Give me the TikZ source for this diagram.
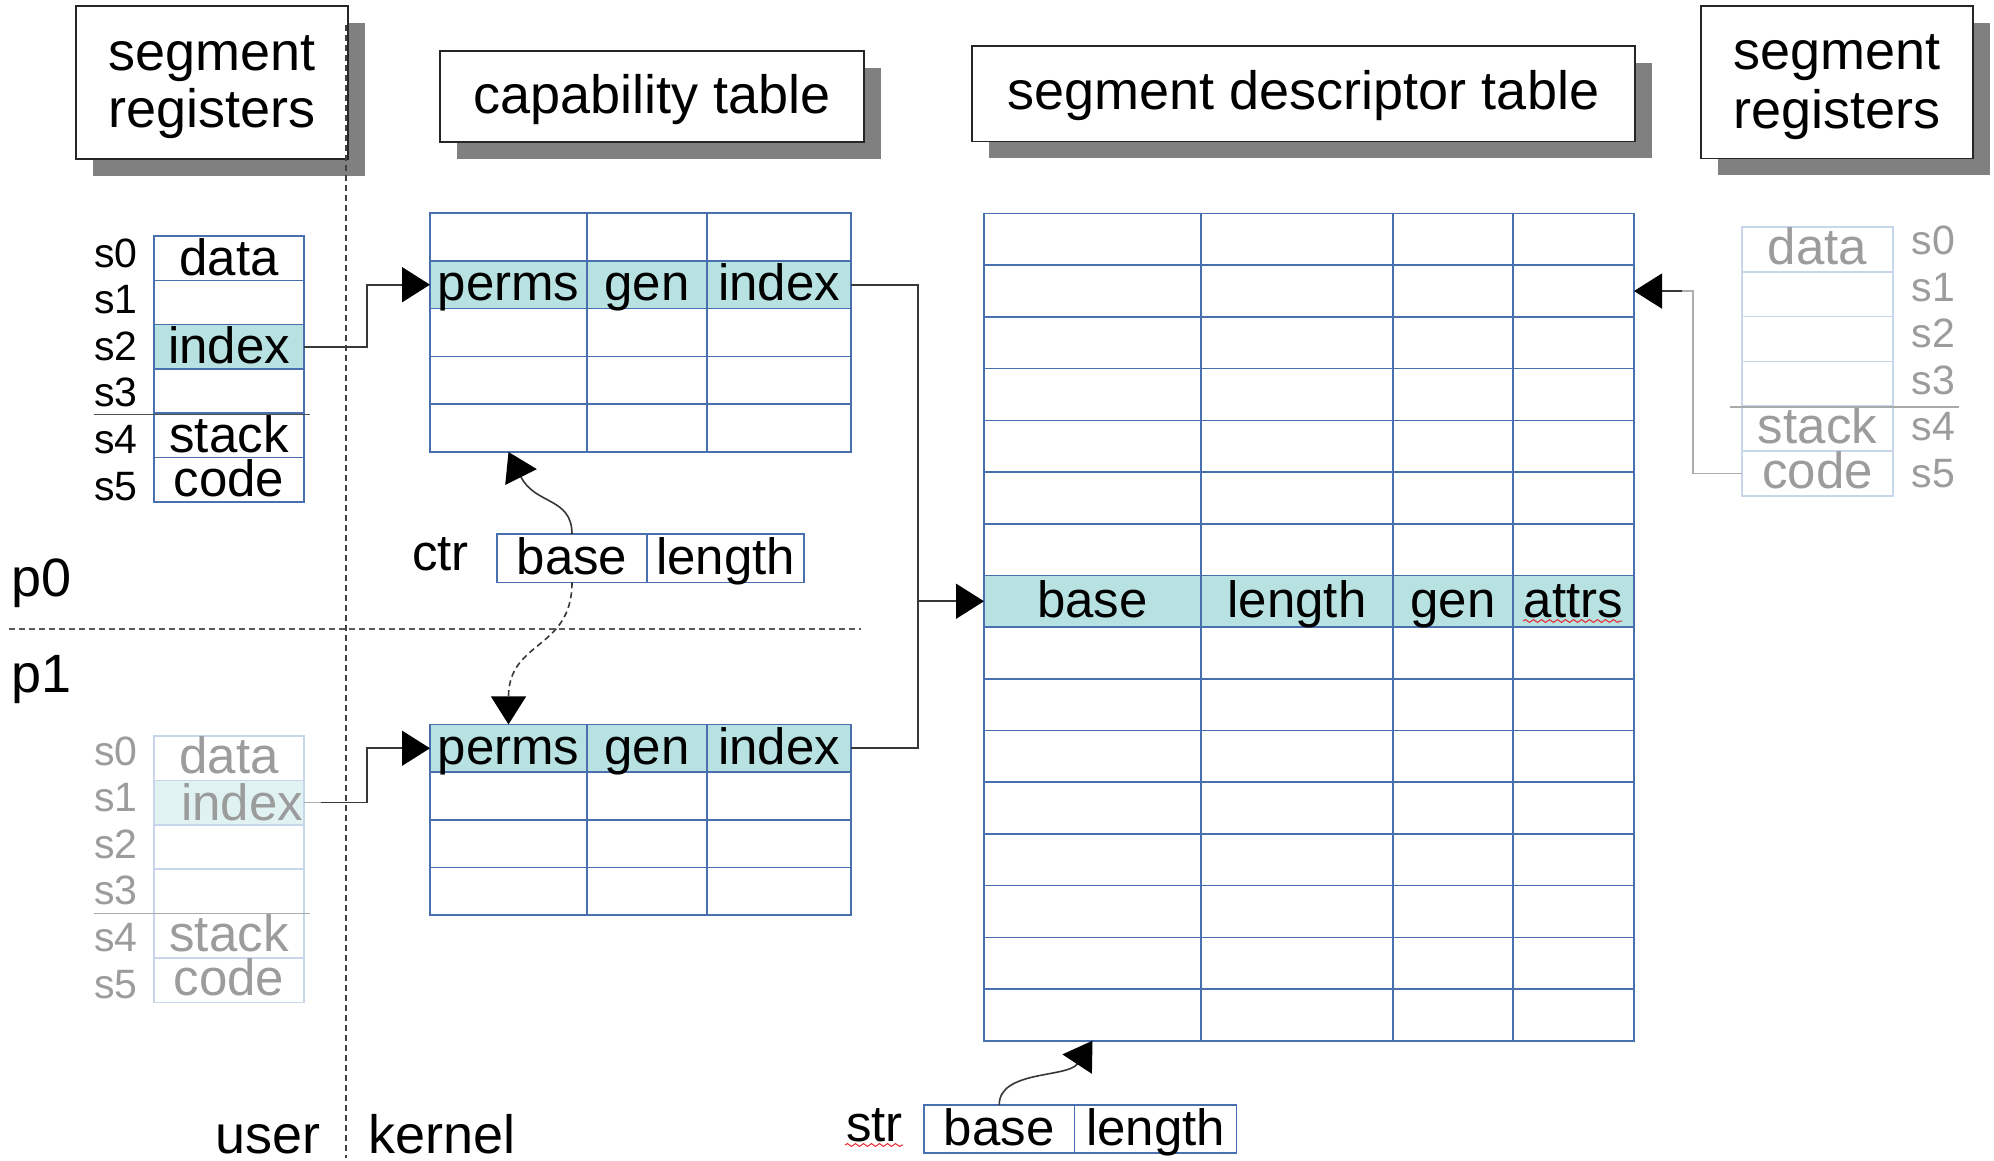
\documentclass[tikz,border=0pt]{standalone}
\usepackage{fontspec}
\setmainfont{Liberation Sans}
\usetikzlibrary{arrows.meta,shadows,decorations.pathmorphing}

\definecolor{gridblue}{HTML}{4A6FAE}
\definecolor{hilite}{HTML}{B8E1E1}
\definecolor{fadeblue}{HTML}{C8D6EB}
\definecolor{fadehilite}{HTML}{E1F2F2}
\definecolor{fadetext}{HTML}{9C9C9C}
\definecolor{shadowgray}{HTML}{808080}
\definecolor{linkgray}{HTML}{383838}
\definecolor{fadelink}{HTML}{ADADAD}
\definecolor{ruleline}{HTML}{505050}
\definecolor{fadeline}{HTML}{AAAAAA}
\definecolor{spellred}{HTML}{E8262A}

\tikzset{
  bigtext/.style={font=\fontsize{27}{29}\selectfont, inner sep=0pt, anchor=base},
  celltext/.style={font=\fontsize{25.5}{27}\selectfont},
  labeltext/.style={font=\fontsize{20.5}{22}\selectfont, inner sep=0pt, anchor=base},
  titlebox/.style={draw=black!85, line width=0.9pt, fill=white, inner sep=0pt, outer sep=0pt,
    drop shadow={shadow xshift=8.5pt, shadow yshift=-8.5pt, fill=shadowgray, opacity=1}},
  cell/.style={draw=gridblue, line width=0.8pt, fill=white, inner sep=0pt, outer sep=0pt,
    celltext, text depth=0pt, text height=15.9pt},
  hot/.style={fill=hilite},
  capcell/.style={cell, minimum height=23.9pt},
  capcellb/.style={cell, minimum height=23.85pt},
  sdtcell/.style={cell, minimum height=25.85pt},
  pairbox/.style={cell, minimum height=24.1pt, text height=16pt},
  regcell/.style={cell, minimum width=75pt, minimum height=22.15pt, text height=16.85pt},
  fadecell/.style={cell, draw=fadeblue, text=fadetext, minimum width=75pt,
    minimum height=22.2pt, text height=15.2pt},
  fadecellr/.style={fadecell, minimum width=75.5pt, minimum height=22.4pt, text height=14.9pt},
  link/.style={draw=linkgray, line width=0.8pt},
  conn/.style={link, -{Triangle[length=14pt,width=17.5pt,color=black]}},
  fadedlink/.style={draw=fadelink, line width=0.8pt},
  divider/.style={draw=black!75, line width=0.7pt, dash pattern=on 3pt off 2pt},
  spell/.style={draw=spellred, line width=0.5pt,
    decorate, decoration={snake, amplitude=0.7pt, segment length=4pt}}
}

\begin{document}
\begin{tikzpicture}[x=0.5pt, y=-0.5pt]
\fill[white] (0,0) rectangle (1994,1161);
\useasboundingbox (0,0) rectangle (1994,1161);

% ---- headings ----
\node[titlebox, minimum width=136pt, minimum height=76.5pt] (srl) at (212,82.5) {};
\node[bigtext] (srl-a) at (212,71) {segment};
\node[bigtext] (srl-b) at (212,128) {registers};

\node[titlebox, minimum width=212pt, minimum height=45.5pt] (capt) at (652,96.5) {};
\node[bigtext] (capt-a) at (652,114) {capability table};

\node[titlebox, minimum width=331.5pt, minimum height=47.75pt] (sdtt) at (1303.5,93.75) {};
\node[bigtext] (sdtt-a) at (1303.5,110) {segment descriptor table};

\node[titlebox, minimum width=136pt, minimum height=76.25pt] (srr) at (1837,82.25) {};
\node[bigtext] (srr-a) at (1837,70) {segment};
\node[bigtext] (srr-b) at (1837,129) {registers};

% ---- segment registers of p0 ----
\node[regcell] (r0-0) at (229,258.15) {data};
\node[regcell] (r0-1) at (229,302.45) {};
\node[regcell, hot] (r0-2) at (229,346.75) {index};
\node[regcell] (r0-3) at (229,391.05) {};
\node[regcell] (r0-4) at (229,435.35) {stack};
\node[regcell] (r0-5) at (229,479.65) {code};
\foreach \i in {0,...,5}
  \node[labeltext] (l0-\i) at (116,{267+\i*46.6}) {s\i};
\draw[draw=ruleline, line width=0.8pt] (94,414.5) -- (310,414.5);

% ---- segment registers of p1 ----
\node[fadecell] (r1-0) at (229,758.2) {data};
\node[fadecell, fill=fadehilite] (r1-1) at (229,802.6) {};
\node[fadecell] (r1-2) at (229,847) {};
\node[fadecell] (r1-3) at (229,891.4) {};
\node[fadecell] (r1-4) at (229,935.8) {stack};
\node[fadecell] (r1-5) at (229,980.2) {code};
\node[celltext, text=fadetext, inner sep=0pt, anchor=base] (r1-idx) at (242,820) {index};
\foreach \i in {0,...,5}
  \node[labeltext, text=fadetext] (l1-\i) at (116,{765+\i*46.6}) {s\i};
\draw[draw=fadeline, line width=0.8pt] (94,913.6) -- (310,913.6);

% ---- segment registers on the right ----
\node[fadecellr] (rr-0) at (1817.5,249.4) {data};
\node[fadecellr] (rr-1) at (1817.5,294.2) {};
\node[fadecellr] (rr-2) at (1817.5,339) {};
\node[fadecellr] (rr-3) at (1817.5,383.8) {};
\node[fadecellr] (rr-4) at (1817.5,428.6) {stack};
\node[fadecellr] (rr-5) at (1817.5,473.4) {code};
\foreach \i in {0,...,5}
  \node[labeltext, text=fadetext] (lr-\i) at (1933.5,{255+\i*46.4}) {s\i};
\draw[draw=fadeline, line width=0.8pt] (1730,407) -- (1959,407);

% ---- capability table of p0 ----
\foreach \r in {0,2,3,4}
  \foreach \c/\xl/\xr in {0/430/587,1/587/707,2/707/851}
    \node[capcell, minimum width={(\xr-\xl)*0.5pt}] (cap0-\r-\c)
      at ({(\xl+\xr)/2},{213+(\r+0.5)*47.8}) {};
\node[capcell, hot, minimum width=78.5pt] (cap0-1-0) at (508.5,284.7) {perms};
\node[capcell, hot, minimum width=60pt]   (cap0-1-1) at (647,284.7) {gen};
\node[capcell, hot, minimum width=72pt]   (cap0-1-2) at (779,284.7) {index};

% ---- capability table of p1 ----
\foreach \r in {1,2,3}
  \foreach \c/\xl/\xr in {0/430/587,1/587/707,2/707/851}
    \node[capcellb, minimum width={(\xr-\xl)*0.5pt}] (cap1-\r-\c)
      at ({(\xl+\xr)/2},{724.4+(\r+0.5)*47.7}) {};
\node[capcellb, hot, minimum width=78.5pt] (cap1-0-0) at (508.5,748.25) {perms};
\node[capcellb, hot, minimum width=60pt]   (cap1-0-1) at (647,748.25) {gen};
\node[capcellb, hot, minimum width=72pt]   (cap1-0-2) at (779,748.25) {index};

% ---- segment descriptor table ----
\foreach \r in {0,...,6,8,9,...,15}
  \foreach \c/\xl/\xr in {0/984/1201,1/1201/1393,2/1393/1513,3/1513/1634}
    \node[sdtcell, minimum width={(\xr-\xl)*0.5pt}] (sdt-\r-\c)
      at ({(\xl+\xr)/2},{213.5+(\r+0.5)*51.7}) {};
\node[sdtcell, hot, minimum width=108.5pt] (sdt-7-0) at (1092.5,601.25) {base};
\node[sdtcell, hot, minimum width=96pt]    (sdt-7-1) at (1297,601.25) {length};
\node[sdtcell, hot, minimum width=60pt]    (sdt-7-2) at (1453,601.25) {gen};
\node[sdtcell, hot, minimum width=60.5pt]  (sdt-7-3) at (1573.5,601.25) {attrs};
\draw[spell] (1523,621) -- (1622,621);

% ---- ctr and str registers ----
\node[celltext, inner sep=0pt, anchor=base] (ctrl) at (440.5,570) {ctr};
\node[pairbox, minimum width=75pt]   (ctr-0) at (572,558.25) {base};
\node[pairbox, minimum width=78.5pt] (ctr-1) at (725.5,558.25) {length};

\node[celltext, inner sep=0pt, anchor=base] (strl) at (874.5,1141) {str};
\draw[spell] (845,1145) -- (903,1145);
\node[pairbox, minimum width=75.25pt] (str-0) at (999.25,1129) {base};
\node[pairbox, minimum width=81.05pt] (str-1) at (1155.55,1129) {length};

% ---- side labels ----
\node[bigtext, anchor=base west] (p0) at (11,596) {p0};
\node[bigtext, anchor=base west] (p1) at (11,692) {p1};
\node[bigtext] (user) at (268,1153) {user};
\node[bigtext] (kernel) at (442,1153) {kernel};

% ---- connectors ----
\draw[conn] (r0-2.east) -- ++(63,0) |- (cap0-1-0.west);

\draw[fadedlink] (r1-1.east) -- ++(17,0) coordinate (ptap);
\draw[conn] (ptap) -- ++(46,0) |- (cap1-0-0.west);

\draw[link] (cap0-1-2.east) -- ++(67,0) coordinate (bustop) |- (cap1-0-2.east);
\draw[conn] (bustop |- sdt-7-0.west) -- (sdt-7-0.west);

\coordinate (rtap) at ([xshift=24pt]sdt-1-3.east);
\draw[fadedlink] (rr-5.west) -- ++(-49,0) |- (rtap);
\draw[conn] (rtap) -- (sdt-1-3.east);

\draw[conn] (ctr-0.north) .. controls (572,497) and (535,505) .. (cap0-4-0.south);
\draw[conn, dash pattern=on 3pt off 2pt] (ctr-0.south)
  .. controls (572,650) and (508.5,640) .. (cap1-0-0.north);
\draw[conn] (str-0.north) .. controls (999,1070) and (1068,1078) .. (sdt-15-0.south);

% ---- user / kernel and p0 / p1 dividers ----
\draw[divider] (346,25) -- (346,1158);
\draw[divider, draw=black!65] (9,629) -- (861,629);
\end{tikzpicture}
\end{document}
